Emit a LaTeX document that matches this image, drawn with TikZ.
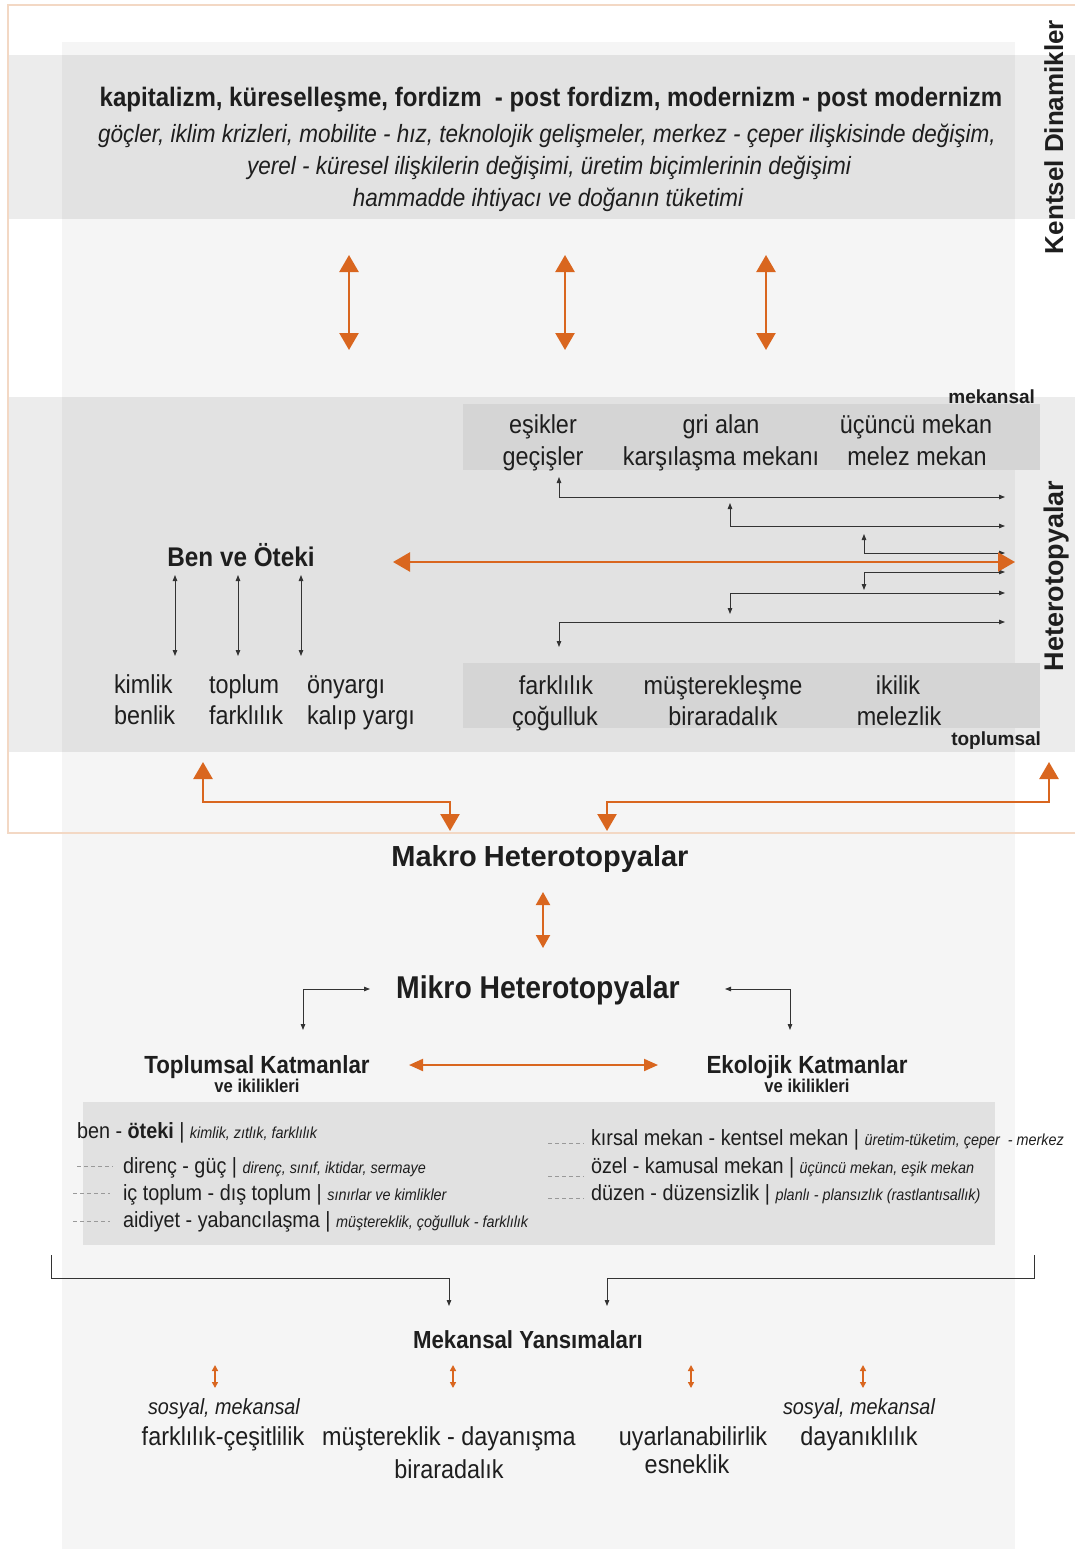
\documentclass[tikz,border=0pt]{standalone}
\usepackage{fontspec}
\setmainfont{Liberation Sans}[FakeStretch=0.9]
\newfontfamily\wide{Liberation Sans}
\usetikzlibrary{arrows.meta}
\definecolor{org}{HTML}{D9661F}
\definecolor{orgl}{HTML}{F3D8C4}
\definecolor{panel}{HTML}{F5F5F5}
\definecolor{inner}{HTML}{D5D5D5}
\definecolor{lowbox}{HTML}{E1E1E1}
\definecolor{ink}{HTML}{1E1E1E}
\definecolor{lk}{HTML}{333333}
\tikzset{
  base/.style={inner sep=0pt, outer sep=0pt, text=ink, anchor=base},
  body/.style={base, font=\fontsize{26}{30}\selectfont},
  bodyw/.style={body, anchor=base west},
  ital/.style={base, font=\fontsize{25}{30}\selectfont\itshape},
  titleb/.style={base, font=\fontsize{26.7}{30}\selectfont\bfseries},
  headb/.style={base, font=\fontsize{31.5}{34}\selectfont\bfseries},
  subb/.style={base, font=\fontsize{24.8}{28}\selectfont\bfseries},
  tinyb/.style={base, font=\fontsize{18.5}{20}\selectfont\bfseries},
  wideb/.style={base, font=\wide\fontsize{19}{22}\selectfont\bfseries},
  rot/.style={base, rotate=90, font=\wide\fontsize{27}{30}\selectfont\bfseries},
  lowt/.style={base, anchor=base west, font=\fontsize{22}{26}\selectfont},
  oarr/.style={draw=org, line width=2.5pt, {Triangle[length=17pt,width=19pt]}-{Triangle[length=17pt,width=19pt]}},
  oarrm/.style={draw=org, line width=2pt, {Triangle[length=13pt,width=14pt]}-{Triangle[length=13pt,width=14pt]}},
  oarrs/.style={draw=org, line width=1.5pt, {Triangle[length=6pt,width=6pt]}-{Triangle[length=6pt,width=6pt]}},
  blk/.style={draw=lk, line width=0.9pt},
  blk2/.style={blk, {Triangle[length=6pt,width=4.5pt]}-{Triangle[length=6pt,width=4.5pt]}},
  blk1/.style={blk, -{Triangle[length=6pt,width=4.5pt]}},
  dashl/.style={draw=gray!80, line width=0.8pt, dash pattern=on 4pt off 3pt},
}
\newcommand{\smit}[1]{{\fontsize{16}{18}\selectfont\itshape #1}}
\begin{document}
\begin{tikzpicture}[x=1pt,y=-1pt]
\useasboundingbox (0,0) rectangle (1075,1549);
\fill[white] (0,0) rectangle (1075,1549);
% panel and bands
\fill[panel] (62,42) rectangle (1015,1549);
\fill[black, opacity=0.075] (8,55) rectangle (1075,219);
\fill[black, opacity=0.075] (8,397) rectangle (1075,752);
\fill[inner] (463,404) rectangle (1040,470);
\fill[inner] (463,663) rectangle (1040,728);
\fill[lowbox] (83,1102) rectangle (995,1245);
\draw[orgl, line width=1.5pt] (8,5) -- (1085,5) -- (1085,833) -- (8,833) -- cycle;

% top section
\node[titleb] (t1) at (551,107) {kapitalizm, küreselleşme, fordizm \ - post fordizm, modernizm - post modernizm};
\node[ital] (t2) at (547,143) {göçler, iklim krizleri, mobilite - hız, teknolojik gelişmeler, merkez - çeper ilişkisinde değişim,};
\node[ital] (t3) at (549,175) {yerel - küresel ilişkilerin değişimi, üretim biçimlerinin değişimi};
\node[ital] (t4) at (548,207) {hammadde ihtiyacı ve doğanın tüketimi};
\node[rot, font=\wide\fontsize{26}{30}\selectfont\bfseries] (kd) at (1063,137) {Kentsel Dinamikler};

\coordinate (v1a) at (349,255); \coordinate (v1b) at (349,350);
\coordinate (v2a) at (565,255); \coordinate (v2b) at (565,350);
\coordinate (v3a) at (766,255); \coordinate (v3b) at (766,350);
\draw[oarr] (v1a) -- (v1b);
\draw[oarr] (v2a) -- (v2b);
\draw[oarr] (v3a) -- (v3b);

% middle section
\node[wideb, anchor=base east] (mek) at (1035,403) {mekansal};
\node[wideb, anchor=base east] (top) at (1041,745) {toplumsal};
\node[rot] (het) at (1063,576) {Heterotopyalar};

\node[body] (e1) at (543,433) {eşikler};
\node[body] (e2) at (543,465) {geçişler};
\node[body] (g1) at (721,433) {gri alan};
\node[body] (g2) at (721,465) {karşılaşma mekanı};
\node[body] (u1) at (916,433) {üçüncü mekan};
\node[body] (u2) at (917,465) {melez mekan};

\node[body] (f1) at (556,694) {farklılık};
\node[body] (f2) at (555,725) {çoğulluk};
\node[body] (m1) at (723,694) {müşterekleşme};
\node[body] (m2) at (723,725) {biraradalık};
\node[body] (i1) at (898,694) {ikilik};
\node[body] (i2) at (899,725) {melezlik};

\coordinate (h1a) at (559,477); \coordinate (h1b) at (1005,497);
\coordinate (h2a) at (730,503); \coordinate (h2b) at (1005,526);
\coordinate (h3a) at (864,534); \coordinate (h3b) at (1005,553);
\coordinate (h4a) at (864,590); \coordinate (h4b) at (1005,572);
\coordinate (h5a) at (730,614); \coordinate (h5b) at (1005,593);
\coordinate (h6a) at (559,647); \coordinate (h6b) at (1005,622);
\draw[blk2] (h1a) |- (h1b);
\draw[blk2] (h2a) |- (h2b);
\draw[blk2] (h3a) |- (h3b);
\draw[blk2] (h4a) |- (h4b);
\draw[blk2] (h5a) |- (h5b);
\draw[blk2] (h6a) |- (h6b);

\coordinate (ha) at (393,562); \coordinate (hb) at (1015,562);
\draw[oarr] (ha) -- (hb);

\node[base, font=\fontsize{27}{30}\selectfont\bfseries] (ben) at (241,566) {Ben ve Öteki};
\coordinate (b1a) at (175,575); \coordinate (b1b) at (175,656);
\coordinate (b2a) at (238,575); \coordinate (b2b) at (238,656);
\coordinate (b3a) at (301,575); \coordinate (b3b) at (301,656);
\draw[blk2] (b1a) -- (b1b);
\draw[blk2] (b2a) -- (b2b);
\draw[blk2] (b3a) -- (b3b);

\node[bodyw] (k1) at (114,693) {kimlik};
\node[bodyw] (k2) at (114,724) {benlik};
\node[bodyw] (k3) at (209,693) {toplum};
\node[bodyw] (k4) at (209,724) {farklılık};
\node[bodyw] (k5) at (307,693) {önyargı};
\node[bodyw] (k6) at (307,724) {kalıp yargı};

\coordinate (la1) at (203,762); \coordinate (la2) at (450,831);
\coordinate (ra1) at (1049,762); \coordinate (ra2) at (607,831);
\draw[oarr] (la1) -- ++(0,40) -| (la2);
\draw[oarr] (ra1) -- ++(0,40) -| (ra2);

% makro / mikro
\node[base, font=\wide\fontsize{29}{32}\selectfont\bfseries] (makro) at (540,866) {Makro\hspace{7pt}Heterotopyalar};
\coordinate (mka) at (543,892); \coordinate (mkb) at (543,948);
\draw[oarrm] (mka) -- (mkb);

\node[headb] (mikro) at (538,998) {Mikro Heterotopyalar};
\coordinate (ml1) at (303,1030); \coordinate (ml2) at (370,989);
\coordinate (mr1) at (790,1030); \coordinate (mr2) at (725,989);
\draw[blk2] (ml1) |- (ml2);
\draw[blk2] (mr1) |- (mr2);

\node[subb] (tk) at (257,1073) {Toplumsal Katmanlar};
\node[tinyb] (tk2) at (257,1092) {ve ikilikleri};
\node[subb] (ek) at (807,1073) {Ekolojik Katmanlar};
\node[tinyb] (ek2) at (807,1092) {ve ikilikleri};
\coordinate (tea) at (409,1065); \coordinate (teb) at (658,1065);
\draw[draw=org, line width=2pt, {Triangle[length=14pt,width=12pt]}-{Triangle[length=14pt,width=12pt]}] (tea) -- (teb);

% lower box texts
\node[lowt] (l1) at (77,1138) {ben - \textbf{öteki} | \smit{kimlik, zıtlık, farklılık}};
\node[lowt] (l2) at (123,1173) {direnç - güç | \smit{direnç, sınıf, iktidar, sermaye}};
\node[lowt] (l3) at (123,1200) {iç toplum - dış toplum | \smit{sınırlar ve kimlikler}};
\node[lowt] (l4) at (123,1227) {aidiyet - yabancılaşma | \smit{müştereklik, çoğulluk - farklılık}};
\node[lowt] (r1) at (591,1145) {kırsal mekan - kentsel mekan | \smit{üretim-tüketim, çeper \ - merkez}};
\node[lowt] (r2) at (591,1173) {özel - kamusal mekan | \smit{üçüncü mekan, eşik mekan}};
\node[lowt] (r3) at (591,1200) {düzen - düzensizlik | \smit{planlı - plansızlık (rastlantısallık)}};

\coordinate (d1a) at (77,1166); \coordinate (d1b) at (113,1166);
\coordinate (d2a) at (73,1193); \coordinate (d2b) at (110,1193);
\coordinate (d3a) at (73,1221); \coordinate (d3b) at (110,1221);
\coordinate (d4a) at (548,1143); \coordinate (d4b) at (584,1143);
\coordinate (d5a) at (548,1176); \coordinate (d5b) at (584,1176);
\coordinate (d6a) at (548,1198); \coordinate (d6b) at (584,1198);
\draw[dashl] (d1a) -- (d1b);
\draw[dashl] (d2a) -- (d2b);
\draw[dashl] (d3a) -- (d3b);
\draw[dashl] (d4a) -- (d4b);
\draw[dashl] (d5a) -- (d5b);
\draw[dashl] (d6a) -- (d6b);

% bottom
\coordinate (bl1) at (51,1255); \coordinate (bl2) at (449,1306);
\coordinate (br1) at (1034,1255); \coordinate (br2) at (607,1306);
\draw[blk1] (bl1) -- ++(0,23) -| (bl2);
\draw[blk1] (br1) -- ++(0,23) -| (br2);

\node[base, font=\fontsize{24.7}{28}\selectfont\bfseries] (my) at (528,1348) {Mekansal Yansımaları};
\coordinate (s1a) at (215,1365); \coordinate (s1b) at (215,1388);
\coordinate (s2a) at (453,1365); \coordinate (s2b) at (453,1388);
\coordinate (s3a) at (691,1365); \coordinate (s3b) at (691,1388);
\coordinate (s4a) at (863,1365); \coordinate (s4b) at (863,1388);
\draw[oarrs] (s1a) -- (s1b);
\draw[oarrs] (s2a) -- (s2b);
\draw[oarrs] (s3a) -- (s3b);
\draw[oarrs] (s4a) -- (s4b);

\node[base, font=\fontsize{22}{26}\selectfont\itshape] (so1) at (224,1414) {sosyal, mekansal};
\node[body] (fc) at (223,1445) {farklılık-çeşitlilik};
\node[body] (md) at (449,1445) {müştereklik - dayanışma};
\node[body] (bir) at (449,1478) {biraradalık};
\node[body] (uy) at (693,1445) {uyarlanabilirlik};
\node[body] (es) at (687,1473) {esneklik};
\node[base, font=\fontsize{22}{26}\selectfont\itshape] (so2) at (859,1414) {sosyal, mekansal};
\node[body] (day) at (859,1445) {dayanıklılık};
\end{tikzpicture}
\end{document}
